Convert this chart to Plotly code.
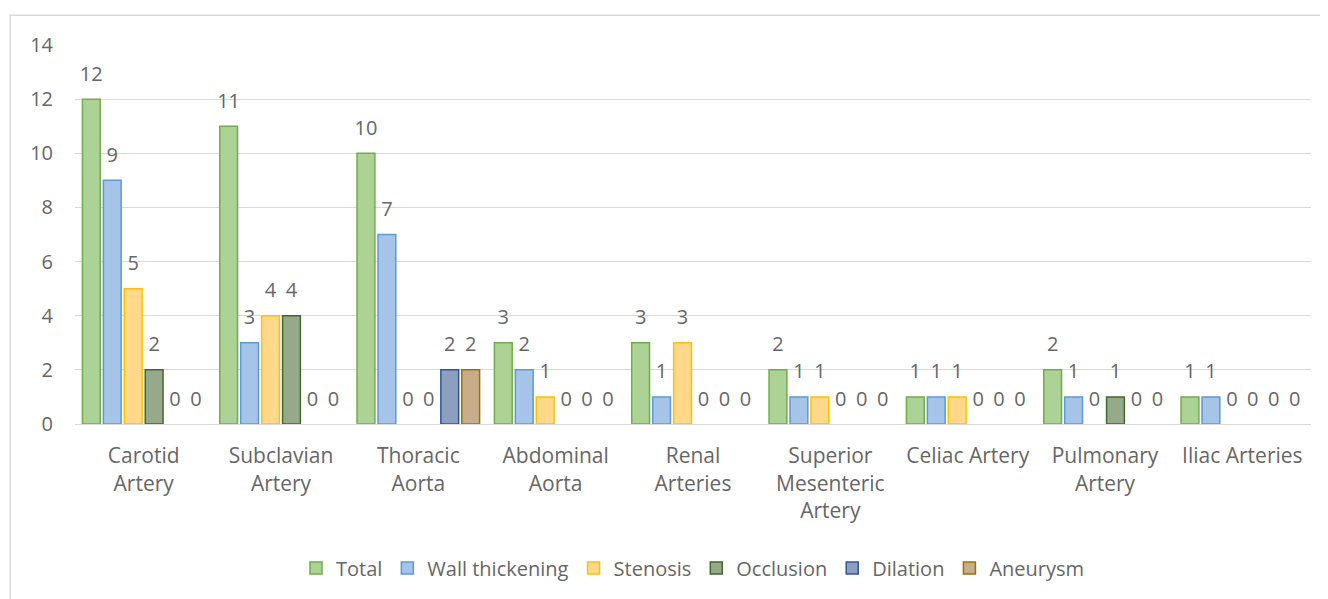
import plotly.graph_objects as go

categories = ["Carotid<br>Artery", "Subclavian<br>Artery", "Thoracic<br>Aorta", "Abdominal<br>Aorta",
              "Renal<br>Arteries", "Superior<br>Mesenteric<br>Artery", "Celiac Artery",
              "Pulmonary<br>Artery", "Iliac Arteries"]
total = [12, 11, 10, 3, 3, 2, 1, 2, 1]
wall_thickening = [9, 3, 7, 2, 1, 1, 1, 1, 1]
stenosis = [5, 4, 0, 1, 3, 1, 1, 0, 0]
occlusion = [2, 4, 0, 0, 0, 0, 0, 1, 0]
dilation = [0, 0, 2, 0, 0, 0, 0, 0, 0]
aneurysm = [0, 0, 2, 0, 0, 0, 0, 0, 0]

series = [
    ("Total", total, "#acd296", "#70ad47"),
    ("Wall thickening", wall_thickening, "#a6c4e8", "#5b9bd5"),
    ("Stenosis", stenosis, "#ffd88a", "#ffc000"),
    ("Occlusion", occlusion, "#97a98b", "#43682b"),
    ("Dilation", dilation, "#8c9fbe", "#2f5597"),
    ("Aneurysm", aneurysm, "#c8ad8a", "#997300"),
]

FONT = "Open Sans, sans-serif"
GRAY = "#666666"
FS = 20

fig = go.Figure()
for name, vals, fill, line in series:
    fig.add_trace(go.Bar(
        name=name, x=categories, y=vals, showlegend=False,
        marker=dict(color=fill, line=dict(color=line, width=[1.5 if v > 0 else 0 for v in vals])),
        hoverinfo="x+y+name",
    ))
# value labels, grouped like the bars
for name, vals, fill, line in series:
    fig.add_trace(go.Scatter(
        name=name, x=categories, y=vals, mode="markers+text", showlegend=False,
        marker=dict(size=20, color="rgba(0,0,0,0)"),
        text=[str(v) for v in vals], textposition="top center",
        textfont=dict(color=GRAY, size=FS, family=FONT),
        cliponaxis=False, hoverinfo="skip",
    ))
# legend entries (hidden axes so they don't take bar slots)
for name, vals, fill, line in series:
    fig.add_trace(go.Bar(
        name=name, x=[None], y=[None], xaxis="x2", yaxis="y2",
        marker=dict(color=fill, line=dict(color=line, width=1.5)),
    ))

fig.update_layout(
    width=1320, height=591,
    margin=dict(l=67, r=17, t=37, b=172),
    paper_bgcolor="white", plot_bgcolor="white",
    barmode="group", bargap=0.085, bargroupgap=0.15,
    scattermode="group", scattergap=0.085,
    font=dict(family=FONT, color=GRAY, size=FS),
    legend=dict(orientation="h", x=0.5, xanchor="center", y=-0.38, yanchor="middle",
                font=dict(size=FS, color=GRAY, family=FONT), itemwidth=30,
                traceorder="normal"),
    xaxis2=dict(overlaying="x", visible=False),
    yaxis2=dict(overlaying="y", visible=False),
    shapes=[dict(type="rect", xref="paper", yref="paper",
                 x0=-0.0525, x1=1.05, y0=-0.6, y1=1.0785,
                 line=dict(color="#d9d9d9", width=1.5), fillcolor="rgba(0,0,0,0)",
                 layer="below")],
)
fig.update_yaxes(range=[0, 14], dtick=2, showgrid=True, gridcolor="#d9d9d9", gridwidth=1.3,
                 zeroline=False, showline=False, ticks="", ticklabelstandoff=21,
                 tickfont=dict(size=FS, color=GRAY, family=FONT), selector=dict(overlaying=None))
fig.update_xaxes(showline=True, linecolor="#d9d9d9", linewidth=1.3, ticks="", ticklabelstandoff=13,
                 tickfont=dict(size=21, color=GRAY, family=FONT), selector=dict(overlaying=None))

fig.write_html("out.html")
